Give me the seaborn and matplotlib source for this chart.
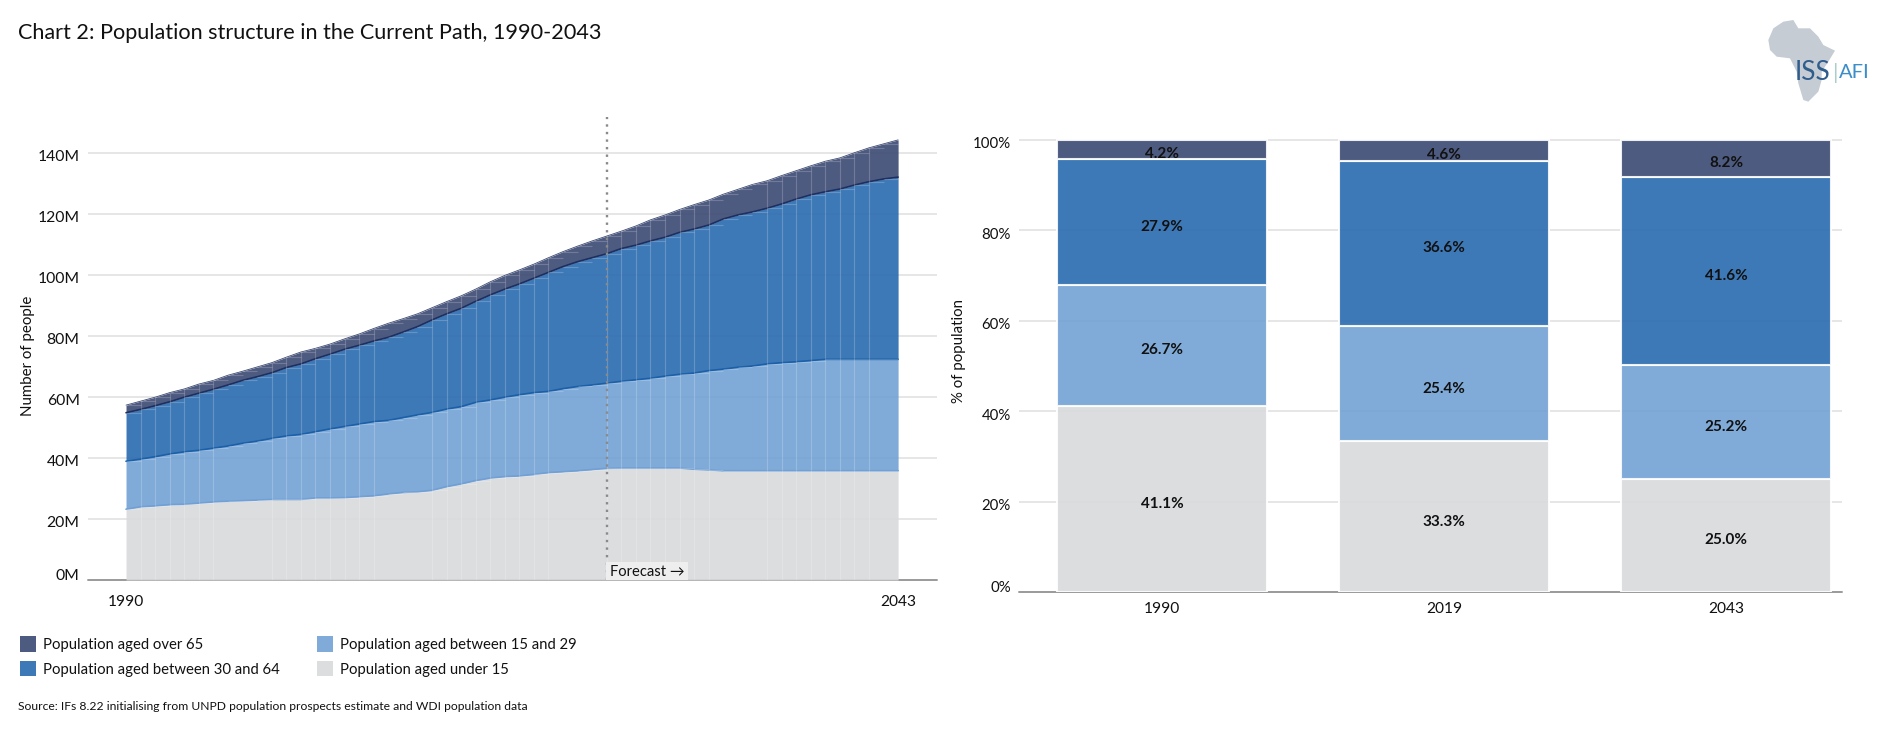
import matplotlib
matplotlib.use("Agg")
import matplotlib.pyplot as plt
from matplotlib.patches import Patch, Polygon
from matplotlib.transforms import ScaledTranslation
import seaborn as sns
import numpy as np

# values, in millions (upper edge of each stacked band)
years = list(range(1990, 2044))
top_under15 = [23.2, 24.0, 24.3, 24.7, 24.8, 25.2, 25.6, 25.8, 26.0, 26.2, 26.4, 26.4, 26.4, 26.9, 26.9, 27.0, 27.3, 27.6,
               28.2, 28.7, 28.9, 29.4, 30.6, 31.5, 32.6, 33.4, 33.9, 34.1, 34.6, 35.2, 35.5, 35.8, 36.2, 36.6, 36.7, 36.7,
               36.7, 36.7, 36.7, 36.3, 36.1, 35.8, 35.8, 35.8, 35.8, 35.8, 35.8, 35.8, 35.8, 35.8, 35.8, 35.8, 35.8, 35.8]
top_15_29 = [38.9, 39.6, 40.4, 41.3, 42.0, 42.5, 43.2, 43.9, 44.8, 45.5, 46.4, 47.2, 47.7, 48.6, 49.5, 50.3, 51.1, 51.9,
             52.3, 53.2, 54.1, 54.9, 56.0, 56.8, 58.2, 59.0, 59.9, 60.7, 61.4, 61.8, 62.7, 63.4, 63.9, 64.5, 65.1, 65.6,
             66.1, 66.8, 67.4, 67.8, 68.6, 69.1, 69.7, 70.1, 70.8, 71.2, 71.5, 71.9, 72.3, 72.3, 72.3, 72.3, 72.3, 72.3]
top_30_64 = [54.8, 55.9, 57.1, 58.4, 59.9, 61.2, 62.5, 63.9, 65.4, 66.6, 67.9, 69.6, 70.8, 72.5, 74.0, 75.6, 76.9, 78.3,
             79.5, 81.2, 83.0, 85.2, 87.2, 89.0, 91.3, 93.4, 95.3, 97.0, 98.9, 100.8, 102.7, 104.3, 105.6, 106.9, 108.6, 109.7,
             111.1, 112.3, 113.9, 115.0, 116.3, 118.3, 119.6, 120.6, 121.8, 123.2, 124.8, 126.2, 127.2, 128.1, 129.4, 130.5, 131.4, 132.0]
top_total = [57.3, 58.6, 59.9, 61.4, 62.6, 64.2, 65.4, 67.1, 68.4, 69.8, 71.2, 73.0, 74.7, 75.9, 77.3, 79.0, 80.6, 82.4,
             84.1, 85.6, 87.2, 89.2, 91.2, 93.1, 95.3, 97.7, 99.8, 101.6, 103.5, 105.6, 107.6, 109.4, 111.1, 112.7, 114.3, 116.0,
             118.0, 119.6, 121.4, 123.0, 124.5, 126.4, 128.0, 129.6, 130.8, 132.5, 134.1, 135.7, 137.2, 138.3, 140.0, 141.6, 142.9, 144.2]
stripe_years = [1991, 1992, 1993, 1994, 1995, 1996, 2000, 2001, 2002, 2003, 2004, 2005, 2006, 2007,
                2011, 2012, 2013, 2014, 2015, 2016, 2017, 2018, 2019, 2023, 2024, 2025, 2026, 2027, 2028, 2029, 2030,
                2034, 2035, 2036, 2037, 2038, 2039, 2040, 2041]
forecast_year = 2023

bar_years = ['1990', '2019', '2043']
pct_under15 = [41.1, 33.3, 25.0]
pct_15_29 = [26.7, 25.4, 25.2]
pct_30_64 = [27.9, 36.6, 41.6]
pct_over65 = [4.2, 4.6, 8.2]

labels = ['Population aged under 15', 'Population aged between 15 and 29',
          'Population aged between 30 and 64', 'Population aged over 65']
colors = ['#d8dadc', '#72a2d4', '#296aaf', '#3b4972']
line_colors = ['#6f9fd6', '#1a5fa8', '#1d2f60', '#3b4972']

W, H = 1880, 739
FONT = ['Lato', 'DejaVu Sans']
GRID = '#e4e4e4'
BASE = '#9a9a9a'

sns.set_theme(style='white')
plt.rcParams['font.family'] = FONT


def px_axes(fig, left, right, top, bottom):
    # axes placed by pixel edges
    return fig.add_axes([left / W, 1 - bottom / H, (right - left) / W, (bottom - top) / H])


def px_text(fig, x, y, s, **kw):
    return fig.text(x / W, 1 - y / H, s, **kw)


def shift_ytick_labels(fig, ax):
    # tick labels sit a little under their grid line, the zero label above it
    for lab, val in zip(ax.get_yticklabels(), ax.get_yticks()):
        dy = 6 if val == 0 else -3
        lab.set_transform(lab.get_transform() + ScaledTranslation(0, dy / 100, fig.dpi_scale_trans))


fig = plt.figure(figsize=(W / 100, H / 100), dpi=100, facecolor='white')

# left chart: stacked areas
ax = px_axes(fig, 88, 937, 117, 580)
stack = [np.zeros(len(years))] + [np.array(t) for t in (top_under15, top_15_29, top_30_64, top_total)]
for i in range(4):
    ax.fill_between(years, stack[i], stack[i + 1], color=colors[i], alpha=0.9, lw=0, zorder=2)
    sns.lineplot(x=years, y=stack[i + 1], color=line_colors[i], lw=1.2 if i < 3 else 0.6, ax=ax, zorder=3)
    # the pale year seams in the areas
    ax.hlines(stack[i + 1][:-1], years[:-1], years[1:], color='white', alpha=0.2, lw=0.8, zorder=3)
    idx = [years.index(y) for y in stripe_years]
    ax.vlines(stripe_years, stack[i][idx], stack[i + 1][idx], color='white', alpha=0.2, lw=0.8, zorder=3)

ax.set_xlim(1987.39, 2045.67)
ax.set_ylim(0, 151.7)
ax.set_yticks(range(0, 141, 20))
ax.set_yticklabels([f'{v}M' for v in range(0, 141, 20)])
ax.set_xticks([1990, 2043])
ax.set_xticklabels(['1990', '2043'])
ax.set_xlabel('')
ax.set_ylabel('')
ax.grid(axis='y', color=GRID, lw=1.3, zorder=1)
ax.set_axisbelow(True)
ax.axhline(0, color=BASE, lw=1.4, zorder=1.5, clip_on=False)
ax.tick_params(axis='y', length=0, labelsize=11.3, pad=6, labelcolor='#111111')
ax.tick_params(axis='x', length=0, labelsize=11.2, pad=11, labelcolor='#111111')
shift_ytick_labels(fig, ax)
sns.despine(ax=ax, left=True, bottom=True)
ax.axvline(forecast_year, color='#8a8a8a', lw=1.7, ls=(0, (1, 2.2)), zorder=4)
ax.text(forecast_year + 0.2, 2.5, 'Forecast →', fontsize=10.6, color='#111111', ha='left', va='center', zorder=5,
        clip_on=True, bbox=dict(facecolor='#eeeeee', edgecolor='none', pad=2.6))

# right chart: stacked shares
ax2 = px_axes(fig, 1019, 1842, 135, 592)
bottom = np.zeros(3)
for vals, col in zip((pct_under15, pct_15_29, pct_30_64, pct_over65), colors):
    sns.barplot(x=bar_years, y=vals, bottom=bottom, color=col, saturation=1, width=0.745, alpha=0.9,
                edgecolor='white', linewidth=1.5, ax=ax2, zorder=2)
    for j, v in enumerate(vals):
        ax2.annotate(f'{v:.1f}%', (j, bottom[j] + v / 2), xytext=(0, -3.5), textcoords='offset points', ha='center',
                     va='center', fontsize=11, fontweight='bold', color='#111111', zorder=4)
    bottom = bottom + np.array(vals)
ax2.set_xlim(-0.507, 2.41)
ax2.set_ylim(0, 101)
ax2.set_yticks(range(0, 101, 20))
ax2.set_yticklabels([f'{v}%' for v in range(0, 101, 20)])
ax2.set_xlabel('')
ax2.set_ylabel('')
ax2.grid(axis='y', color=GRID, lw=1.3, zorder=1)
ax2.set_axisbelow(True)
ax2.axhline(0, color=BASE, lw=1.4, zorder=1.5, clip_on=False)
ax2.tick_params(axis='y', length=0, labelsize=10.8, pad=6, labelcolor='#111111')
ax2.tick_params(axis='x', length=0, labelsize=11.2, pad=7.5, labelcolor='#111111')
shift_ytick_labels(fig, ax2)
sns.despine(ax=ax2, left=True, bottom=True)

# texts around the charts
px_text(fig, 18, 33, 'Chart 2: Population structure in the Current Path, 1990-2043', fontsize=15.6, color='#111111', va='center')
px_text(fig, 28, 356, 'Number of people', rotation=90, fontsize=10.8, color='#111111', ha='center', va='center')
px_text(fig, 959, 351, '% of population', rotation=90, fontsize=10.8, color='#111111', ha='center', va='center')
px_text(fig, 18, 707, 'Source: IFs 8.22 initialising from UNPD population prospects estimate and WDI population data',
        fontsize=8.75, color='#111111', va='center')

# legend, filled column by column
handles = [Patch(facecolor=colors[k], alpha=0.9, edgecolor='none') for k in (3, 2, 1, 0)]
fig.legend(handles, [labels[k] for k in (3, 2, 1, 0)], ncol=2, frameon=False, fontsize=10.7,
           loc='upper left', bbox_to_anchor=(7 / W, 1 - 623 / H), handlelength=1.05, handleheight=1.2,
           handletextpad=0.45, columnspacing=2.55, labelspacing=0.6, labelcolor='#111111')

# ISS AFI logo
africa = [(85, 120), (100, 85), (130, 65), (160, 60), (175, 85), (210, 85), (235, 110), (250, 135), (285, 152), (265, 185),
          (245, 215), (245, 240), (235, 275), (205, 305), (190, 300), (175, 250), (170, 215), (150, 175), (110, 170), (90, 150)]
fig.add_artist(Polygon([((1740 + x / 3) / W, 1 - (y / 3) / H) for x, y in africa], closed=True, facecolor='#c6ccd4',
                       edgecolor='none', transform=fig.transFigure))
px_text(fig, 1795, 73, 'ISS', fontsize=19, color='#2f5d8c', va='center')
px_text(fig, 1833, 73, '|', fontsize=16, color='#a9cfc8', va='center')
px_text(fig, 1839, 73, 'AFI', fontsize=14.5, color='#3b8ec9', va='center')

plt.savefig('out.png', dpi=100)
